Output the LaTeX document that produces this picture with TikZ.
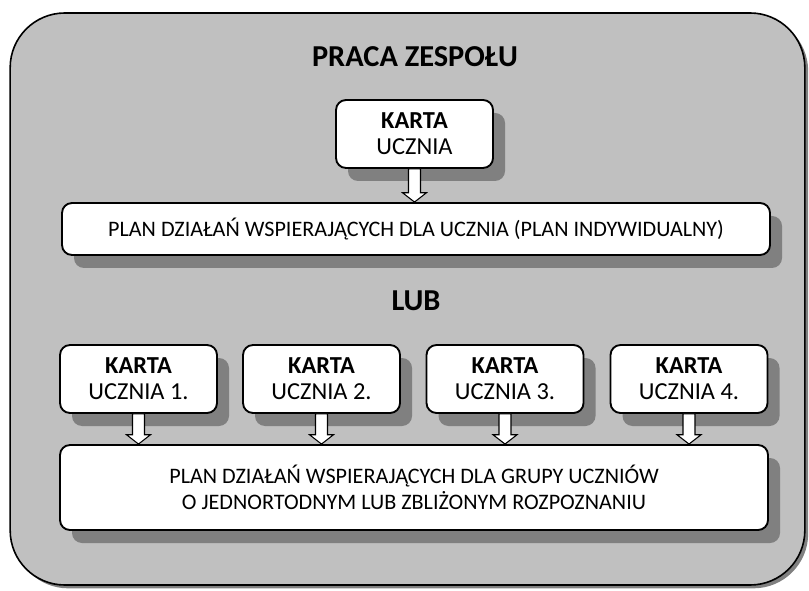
\documentclass[tikz,border=0pt]{standalone}
\usepackage{fontspec}
\setmainfont{Carlito}
\usetikzlibrary{shadows,calc}

\definecolor{panelgray}{HTML}{C0C0C0}
\definecolor{shadowgray}{HTML}{808080}

\begin{document}
\begin{tikzpicture}[
    x=0.75pt, y=-0.75pt,
    panel/.style={rectangle, draw, line width=1.2pt, rounded corners=41pt, fill=panelgray,
        minimum width=596pt, minimum height=429pt,
        drop shadow={shadow xshift=2.5pt, shadow yshift=-2.5pt, fill=shadowgray, opacity=1}},
    card/.style={rectangle, draw, line width=1.4pt, rounded corners=7.5pt, fill=white,
        minimum width=117.75pt, minimum height=51pt, align=center,
        font=\fontsize{18.3}{19.5}\selectfont,
        drop shadow={shadow xshift=9pt, shadow yshift=-9.75pt, fill=shadowgray, opacity=1}},
    plan/.style={card, minimum width=531pt, font=\fontsize{16.6}{19.5}\selectfont},
    heading/.style={font=\fontsize{22.8}{26}\selectfont\bfseries},
    blockarrow/.style={draw, fill=white, line width=0.8pt, line join=miter,
        to path={let \p1=(\tikztostart), \p2=(\tikztotarget) in
            (\x1-4.5pt,\y1) -- (\x1-4.5pt,\y2+7pt) -- (\x1-9pt,\y2+7pt) -- (\x1,\y2)
            -- (\x1+9pt,\y2+7pt) -- (\x1+4.5pt,\y2+7pt) -- (\x1+4.5pt,\y1) -- cycle}}
]
\useasboundingbox (0,0) rectangle (809,591);

% Team panel
\node[panel] (team) at (407.5,299) {};
\node[heading] (title) at (415,57) {PRACA ZESPOŁU};

% Individual plan
\node[card] (card) at (414.5,134) {\textbf{KARTA}\\UCZNIA};
\node[plan, minimum height=39pt] (plan) at (416,229)
    {PLAN DZIAŁAŃ WSPIERAJĄCYCH DLA UCZNIA (PLAN INDYWIDUALNY)};

\node[heading] (lub) at (416,301) {LUB};

% Group plan
\node[card] (card1) at (138.5,379) {\textbf{KARTA}\\UCZNIA 1.};
\node[card] (card2) at (321.5,379) {\textbf{KARTA}\\UCZNIA 2.};
\node[card] (card3) at (505,379) {\textbf{KARTA}\\UCZNIA 3.};
\node[card] (card4) at (689,379) {\textbf{KARTA}\\UCZNIA 4.};
\node[plan, minimum height=63.75pt] (group) at (414,487.5)
    {PLAN DZIAŁAŃ WSPIERAJĄCYCH DLA GRUPY UCZNIÓW\\O JEDNORTODNYM LUB ZBLIŻONYM ROZPOZNANIU};

% Arrows
\draw[blockarrow] (card.south) to (plan.north);
\foreach \i in {1,...,4}
    \draw[blockarrow] (card\i.south) to (group.north);
\end{tikzpicture}
\end{document}
